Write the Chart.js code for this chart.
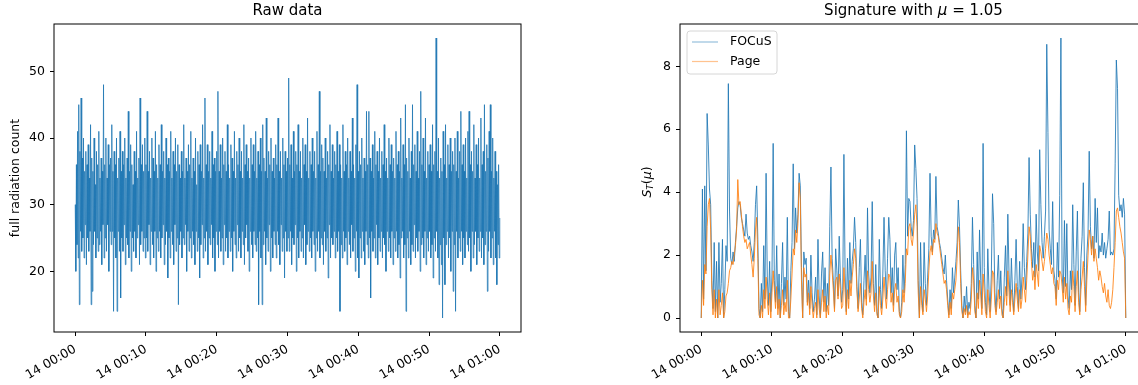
<!DOCTYPE html>
<html>
<head>
<meta charset="utf-8">
<script src="https://cdn.jsdelivr.net/npm/chart.js@4.4.1/dist/chart.umd.min.js"></script>
<style>
  html, body { margin: 0; padding: 0; background: #fff; overflow: hidden; width: 1138px; height: 385px; }
  #raw { position: absolute; left: 0; top: 0; }
  #sig { position: absolute; left: 600px; top: 0; }
</style>
</head>
<body>
<canvas id="raw" width="540" height="385"></canvas>
<canvas id="sig" width="560" height="385"></canvas>
<script>
// x axis: minutes after 14 00:00
const rawStepSeconds = 5;
const sigStepSeconds = 10;
const tickMinutes = [0, 10, 20, 30, 40, 50, 60];
const tickLabels = ['14 00:00', '14 00:10', '14 00:20', '14 00:30', '14 00:40', '14 00:50', '14 01:00'];

const rawYTicks = [20, 30, 40, 50];
const sigYTicks = [0, 2, 4, 6, 8];

// full radiation count, one reading every 5 s
const rawCounts = [
  30,20,36,24,41,22,45,15,38,26,46,23,37,25,40,22,35,27,38,21,
  36,25,39,23,34,26,42,15,37,17,35,24,40,26,33,22,38,25,36,23,
  41,24,34,26,37,21,35,27,48,22,36,25,40,23,34,27,39,20,36,26,
  37,24,42,26,35,14,38,25,36,22,40,14,34,26,37,23,41,16,35,25,
  38,23,36,27,40,21,34,25,37,24,44,22,35,26,39,20,36,25,33,23,
  38,26,35,22,41,25,34,27,37,21,46,24,36,26,39,23,35,25,40,22,
  36,25,44,23,35,27,38,21,34,26,40,24,37,22,35,26,41,20,36,25,
  34,23,39,26,36,22,42,25,35,27,38,21,34,24,40,26,36,19,37,25,
  35,22,41,26,34,24,38,21,36,27,40,23,35,25,39,15,36,24,34,26,
  38,22,35,25,42,24,34,27,37,20,35,26,39,23,36,25,41,22,34,26,
  37,24,35,21,40,26,33,23,38,25,36,19,39,24,35,27,42,22,34,25,
  46,23,36,26,39,21,35,25,38,24,34,27,41,22,36,25,37,20,35,26,
  38,24,47,22,35,26,39,23,34,25,40,21,36,27,38,23,35,25,42,22,
  36,26,34,23,39,25,37,20,35,26,41,24,34,22,38,27,36,23,40,25,
  35,22,38,26,34,24,42,21,36,25,39,27,35,23,37,20,34,26,40,24,
  36,22,39,26,35,24,41,23,34,25,38,15,36,26,40,22,35,15,42,24,
  37,26,35,21,43,25,34,23,38,27,36,20,40,25,35,22,37,26,34,24,
  39,22,36,26,43,24,35,21,38,27,34,23,40,25,36,19,38,26,35,23,
  37,25,49,23,36,26,39,21,34,25,41,24,35,27,38,20,36,25,42,22,
  35,26,38,23,34,25,40,22,36,27,39,21,35,24,43,26,34,23,38,25,
  36,22,40,26,35,24,38,20,34,25,41,23,36,26,47,22,35,25,39,24,
  37,21,35,26,40,23,34,25,38,19,36,27,42,22,35,25,39,24,34,26,
  38,22,36,25,41,23,35,26,39,14,36,24,34,22,42,26,35,23,38,25,
  36,21,40,26,34,24,38,22,35,27,43,23,36,25,34,20,39,26,48,22,
  35,19,38,25,36,22,40,26,34,23,37,21,35,26,44,24,36,22,44,25,
  37,16,35,26,39,23,34,25,41,22,36,27,38,21,35,25,40,23,34,26,
  38,22,36,25,42,24,35,20,37,26,34,23,40,25,36,22,39,26,35,21,
  37,25,34,23,41,26,36,22,38,24,35,19,43,25,34,26,39,22,36,24,
  45,14,37,25,35,22,40,26,34,21,38,24,45,23,36,27,39,22,35,25,
  41,23,34,26,38,20,47,24,36,25,40,22,35,26,43,21,34,25,38,23,
  36,26,39,22,35,24,42,19,36,25,38,23,55,26,35,22,40,18,34,24,
  37,21,35,13,41,25,36,18,42,24,34,26,39,22,36,25,40,20,35,26,
  38,17,36,24,40,14,35,26,41,22,34,25,38,23,44,26,36,21,39,25,
  35,22,40,26,34,24,41,23,44,25,36,20,38,26,35,22,42,24,34,26,
  39,21,36,25,40,23,34,26,43,22,36,25,38,21,45,24,35,26,39,17,
  37,23,41,26,45,22,35,25,40,21,34,26,38,22,35,18,33,24,36,22,
  28
];

// FOCuS statistic, one value every 10 s
const focusStat = [
  0, 4.1, 0.6, 4.2, 1.5, 6.5, 5.5, 4.1, 3.6, 1.2, 0.3, 2.4,
  0.2, 1.8, 0, 2.4, 0.5, 1.1, 2.5, 0, 0.9, 2.3, 1.8, 7.45,
  3.4, 1.9, 1.7, 2.1, 1.8, 2.4, 2.9, 3.5, 3.7, 3.6, 3.2, 3.0,
  2.8, 2.6, 3.3, 2.7, 2.5, 2.6, 2.3, 2.1, 1.8, 2.4, 3.6, 4.2,
  2.5, 0.3, 0, 1.1, 0.2, 2.3, 0.6, 4.6, 1.3, 0.4, 1.8, 0.2,
  1.4, 5.55, 1.2, 0.5, 2.3, 0.3, 1.4, 0, 1.1, 2.4, 0.4, 1.3,
  0.6, 3.2, 0.2, 0, 1.5, 2.4, 4.9, 2.2, 3.5, 2.7, 3.3, 4.6,
  4.2, 1.6, 0, 2.1, 1.7, 1.9, 0.5, 1.2, 0.3, 2.0, 0.8, 0.2,
  0.6, 1.3, 0.1, 2.5, 0.7, 0, 1.4, 2.1, 0.5, 1.6, 0.2, 1.1,
  0.4, 2.9, 4.8, 1.9, 1.2, 0.3, 2.2, 1.5, 0.7, 2.6, 1.3, 0.5,
  0.9, 5.2, 1.4, 0.2, 1.9, 0.6, 2.4, 1.1, 1.8, 2.2, 3.2, 2.4,
  1.0, 0.3, 1.6, 2.5, 0.5, 0.1, 1.2, 2.0, 0.6, 3.5, 1.4, 0.8,
  1.3, 3.7, 1.1, 0.4, 1.7, 0.2, 0, 2.5, 0.9, 0.3, 1.4, 3.2,
  1.5, 0.6, 1.9, 3.2, 2.5, 0.8, 1.6, 0.4, 2.0, 2.4, 0.9, 1.6,
  0.2, 0, 0.5, 2.0, 0.8, 1.7, 5.95, 2.6, 3.8, 3.7, 2.9, 2.6,
  3.1, 5.5, 4.75, 3.8, 1.2, 0, 2.4, 0.7, 0.2, 2.4, 1.1, 0.4,
  1.3, 2.2, 4.6, 2.6, 2.1, 2.8, 2.5, 4.5, 2.9, 2.7, 2.4, 2.2,
  1.9, 1.6, 1.4, 2.0, 1.2, 0.6, 0.1, 0.9, 0.3, 1.6, 0.8, 1.3,
  1.8, 2.4, 3.75, 2.9, 1.5, 0.4, 0, 0.7, 0.2, 1.0, 0.1, 0.5,
  0.3, 1.1, 3.2, 1.7, 0.4, 0, 2.1, 0.6, 2.8, 1.2, 0.3, 5.55,
  1.6, 0.5, 0.1, 2.2, 0.9, 0.2, 1.4, 3.95, 3.0, 0.8, 0.2, 1.2,
  2.0, 0.6, 1.5, 0.3, 0, 1.3, 2.3, 0.7, 3.3, 1.4, 0.4, 1.9,
  0.8, 0.2, 1.2, 2.5, 1.0, 0.3, 1.8, 0.6, 1.3, 3.0, 1.6, 0.9,
  1.8, 2.7, 5.1, 3.3, 2.2, 1.6, 2.4, 1.3, 3.3, 2.1, 1.5, 5.35,
  3.6, 2.4, 1.9, 2.6, 3.4, 8.7, 5.9, 2.8, 2.2, 1.7, 3.7, 1.5,
  1.2, 0.6, 2.4, 1.3, 3.9, 8.9, 1.4, 0.8, 3.1, 1.0, 3.0, 0.7,
  0.3, 1.5, 0.9, 3.6, 1.7, 0.4, 2.1, 3.4, 0.8, 0.2, 1.9, 2.6,
  4.3, 1.6, 0.4, 2.0, 2.7, 5.3, 2.9, 2.2, 2.6, 1.9, 3.8, 2.4,
  3.5, 1.9, 2.3, 2.1, 2.7, 2.0, 2.4, 1.9, 2.2, 2.5, 3.4, 2.0,
  2.1, 2.0, 2.2, 4.9, 8.2, 7.3, 3.9, 3.4, 3.6, 3.2, 3.8, 3.3,
  0
];

// Page CUSUM statistic, one value every 10 s
const pageStat = [
  0, 1.2, 0.4, 1.7, 1.4, 2.9, 3.6, 3.8, 2.8, 0.9, 0.1, 0.9,
  0, 0.6, 0, 0.9, 0.1, 0.4, 0.8, 0, 0.2, 0.7, 0.8, 1.1,
  1.5, 1.6, 1.8, 1.7, 2.0, 2.3, 2.8, 4.4, 3.6, 3.7, 3.3, 2.9,
  2.6, 2.4, 2.5, 2.2, 2.3, 2.4, 2.0, 1.7, 1.3, 1.9, 2.8, 3.2,
  1.9, 0.1, 0, 0.4, 0, 0.9, 0.3, 1.3, 0.6, 0.1, 0.8, 0,
  0.8, 1.5, 0.9, 0.3, 1.0, 0.1, 0.6, 0, 0.4, 0.9, 0.1, 0.5,
  0.2, 1.2, 0, 0, 0.6, 1.4, 2.2, 2.0, 2.8, 2.4, 3.0, 4.3,
  3.8, 1.2, 0, 1.6, 1.3, 1.4, 0.4, 0.8, 0.1, 1.0, 0.4, 0,
  0.3, 0.5, 0, 0.9, 0.3, 0, 0.5, 0.9, 0.2, 0.7, 0, 0.4,
  0.1, 1.4, 2.0, 1.5, 0.9, 0.2, 1.2, 1.3, 0.6, 1.4, 0.9, 0.3,
  0.4, 1.6, 0.8, 0.1, 0.9, 0.3, 1.2, 0.7, 1.3, 1.7, 2.2, 1.9,
  0.9, 0.2, 0.6, 1.1, 0.3, 0, 0.5, 0.9, 0.4, 1.5, 0.9, 0.5,
  0.8, 1.8, 0.7, 0.2, 0.8, 0.1, 0, 1.0, 0.4, 0.1, 0.6, 1.3,
  0.7, 0.3, 0.9, 1.4, 1.3, 0.5, 0.8, 0.2, 0.9, 1.1, 0.5, 0.7,
  0.1, 0, 0.2, 0.9, 0.5, 1.1, 2.2, 2.0, 2.9, 3.0, 2.5, 2.3,
  2.7, 3.3, 3.6, 2.9, 0.8, 0, 1.0, 0.4, 0.1, 0.9, 0.6, 0.2,
  0.7, 1.5, 2.1, 2.3, 2.0, 2.5, 2.4, 3.0, 2.7, 2.6, 2.3, 2.0,
  1.7, 1.4, 1.1, 1.2, 0.9, 0.4, 0, 0.5, 0.1, 0.8, 0.6, 0.9,
  1.2, 1.9, 2.9, 2.4, 1.1, 0.2, 0, 0.3, 0.1, 0.4, 0, 0.2,
  0.1, 0.6, 1.6, 1.2, 0.2, 0, 0.8, 0.3, 1.2, 0.7, 0.1, 1.4,
  0.8, 0.2, 0, 0.9, 0.4, 0, 0.6, 1.5, 1.4, 0.4, 0.1, 0.5,
  0.9, 0.3, 0.7, 0.1, 0, 0.5, 1.0, 0.4, 1.5, 0.8, 0.2, 0.9,
  0.5, 0.1, 0.6, 1.1, 0.6, 0.2, 0.9, 0.3, 0.6, 1.3, 0.9, 0.5,
  1.2, 2.0, 2.9, 2.6, 1.8, 1.2, 1.5, 0.9, 1.7, 1.4, 1.0, 2.3,
  2.1, 1.8, 1.5, 1.8, 2.2, 2.7, 2.5, 2.0, 1.7, 1.4, 1.6, 1.1,
  1.0, 0.4, 1.2, 0.9, 1.5, 1.4, 1.0, 0.5, 1.3, 0.6, 1.1, 0.3,
  0.1, 0.7, 0.5, 1.5, 1.0, 0.2, 1.0, 1.5, 0.5, 0.1, 0.9, 1.3,
  1.8, 1.0, 0.2, 1.2, 2.0, 2.8, 2.5, 2.0, 2.6, 1.8, 2.2, 1.9,
  1.6, 1.2, 1.5, 1.3, 1.0, 0.8, 1.1, 0.7, 0.5, 0.9, 0.4, 0.3,
  0.5, 0.9, 1.6, 2.4, 3.4, 3.5, 3.2, 2.9, 2.7, 2.4, 2.1, 1.9,
  0
];

const seriesNames = ['FOCuS', 'Page'];
const blue = 'rgba(31,119,180,0.85)';
const orange = 'rgba(255,127,14,0.85)';

Chart.defaults.font.family = 'DejaVu Sans';
Chart.defaults.color = '#000';

const toPoints = (arr, step) => arr.map((v, i) => ({ x: i * step / 60, y: v }));

// box round the plotting area, like the matplotlib spines
const frame = {
  id: 'frame',
  afterDraw(chart) {
    const { ctx, chartArea: a } = chart;
    ctx.save();
    ctx.strokeStyle = '#000';
    ctx.lineWidth = 1;
    ctx.strokeRect(a.left, a.top, a.right - a.left, a.bottom - a.top);
    ctx.restore();
  }
};

function timeAxis() {
  return {
    type: 'linear', min: -3, max: 63,
    afterBuildTicks: s => { s.ticks = tickMinutes.map(v => ({ value: v })); },
    afterFit: s => { s.height = 53; s.paddingLeft = 0; s.paddingRight = 0; },
    ticks: {
      autoSkip: false, minRotation: 30, maxRotation: 30, padding: 6,
      font: { size: 12.5 },
      callback: (v, i) => tickLabels[i]
    },
    grid: { drawOnChartArea: false, color: '#000', lineWidth: 1, tickLength: 4 },
    border: { display: false }
  };
}

function valueAxis(min, max, ticks, width) {
  return {
    type: 'linear', min, max,
    afterBuildTicks: s => { s.ticks = ticks.map(v => ({ value: v })); },
    afterFit: s => { s.width = width; },
    ticks: { padding: 5, font: { size: 12.5 } },
    grid: { drawOnChartArea: false, color: '#000', lineWidth: 1, tickLength: 4 },
    border: { display: false }
  };
}

// draw a row of text pieces (mixed fonts) centred on 0
function drawPieces(ctx, parts) {
  let total = 0;
  parts.forEach(p => { ctx.font = p.f; p.w = ctx.measureText(p.t).width; total += p.w; });
  let px = -total / 2;
  parts.forEach(p => { ctx.font = p.f; ctx.fillText(p.t, px, p.dy || 0); px += p.w; });
}

// Raw data
const rawY = valueAxis(10.9, 57.1, rawYTicks, 54);
rawY.title = { display: true, text: 'full radiation count', font: { size: 12.5 }, padding: { top: 8, bottom: 0 } };

new Chart(document.getElementById('raw'), {
  type: 'line',
  data: {
    datasets: [{
      data: toPoints(rawCounts, rawStepSeconds),
      borderColor: '#1f77b4',
      borderWidth: 0.8,
      pointRadius: 0,
      tension: 0
    }]
  },
  options: {
    responsive: false,
    animation: false,
    layout: { padding: { left: 0, right: 19, top: 0, bottom: 0 } },
    plugins: {
      legend: { display: false },
      tooltip: { enabled: false },
      title: { display: true, text: 'Raw data', fullSize: false, font: { size: 15, weight: 'normal' }, padding: { top: 2, bottom: 4 } }
    },
    scales: { x: timeAxis(), y: rawY }
  },
  plugins: [frame]
});

// title, y label S_T(mu) and the legend box of the signature panel
const sigDecor = {
  id: 'sigDecor',
  afterDraw(chart) {
    const { ctx, chartArea: a } = chart;
    ctx.save();
    ctx.fillStyle = '#000';
    ctx.textBaseline = 'middle';
    ctx.translate((a.left + a.right) / 2, 11);
    drawPieces(ctx, [
      { t: 'Signature with ', f: '15px "DejaVu Sans"' },
      { t: 'μ', f: 'italic 15px "DejaVu Sans"' },
      { t: ' = 1.05', f: '15px "DejaVu Sans"' }
    ]);
    ctx.restore();

    ctx.save();
    ctx.fillStyle = '#000';
    ctx.textBaseline = 'middle';
    ctx.translate(48, (a.top + a.bottom) / 2 + 4);
    ctx.rotate(-Math.PI / 2);
    drawPieces(ctx, [
      { t: 'S', f: 'italic 12.5px "DejaVu Sans"' },
      { t: 'T', f: 'italic 9px "DejaVu Sans"', dy: 3 },
      { t: '(', f: '12.5px "DejaVu Sans"' },
      { t: 'μ', f: 'italic 12.5px "DejaVu Sans"' },
      { t: ')', f: '12.5px "DejaVu Sans"' }
    ]);
    ctx.restore();

    // legend
    const x = a.left + 7, y = a.top + 7, w = 90, h = 43;
    ctx.save();
    ctx.fillStyle = 'rgba(255,255,255,0.8)';
    ctx.strokeStyle = '#d6d6d6';
    ctx.lineWidth = 1;
    ctx.beginPath();
    ctx.roundRect(x, y, w, h, 3);
    ctx.fill();
    ctx.stroke();
    const colors = [blue, orange];
    ctx.font = '12.5px "DejaVu Sans"';
    ctx.textBaseline = 'middle';
    seriesNames.forEach((name, i) => {
      const ly = y + 11 + i * 19.5;
      ctx.strokeStyle = colors[i];
      ctx.globalAlpha = 0.55;
      ctx.lineWidth = 1.2;
      ctx.beginPath();
      ctx.moveTo(x + 5, ly);
      ctx.lineTo(x + 31, ly);
      ctx.stroke();
      ctx.globalAlpha = 1;
      ctx.fillStyle = '#000';
      ctx.fillText(name, x + 43, ly);
    });
    ctx.restore();
  }
};

new Chart(document.getElementById('sig'), {
  type: 'line',
  data: {
    datasets: [
      { label: seriesNames[0], data: toPoints(focusStat, sigStepSeconds), borderColor: blue, borderWidth: 1, pointRadius: 0, tension: 0, order: 1 },
      { label: seriesNames[1], data: toPoints(pageStat, sigStepSeconds), borderColor: orange, borderWidth: 1, pointRadius: 0, tension: 0, order: 0 }
    ]
  },
  options: {
    responsive: false,
    animation: false,
    layout: { padding: { left: 0, right: 13, top: 24, bottom: 0 } },
    plugins: {
      legend: { display: false },
      tooltip: { enabled: false },
      title: { display: false }
    },
    scales: { x: timeAxis(), y: valueAxis(-0.445, 9.345, sigYTicks, 80) }
  },
  plugins: [frame, sigDecor]
});
</script>
</body>
</html>
